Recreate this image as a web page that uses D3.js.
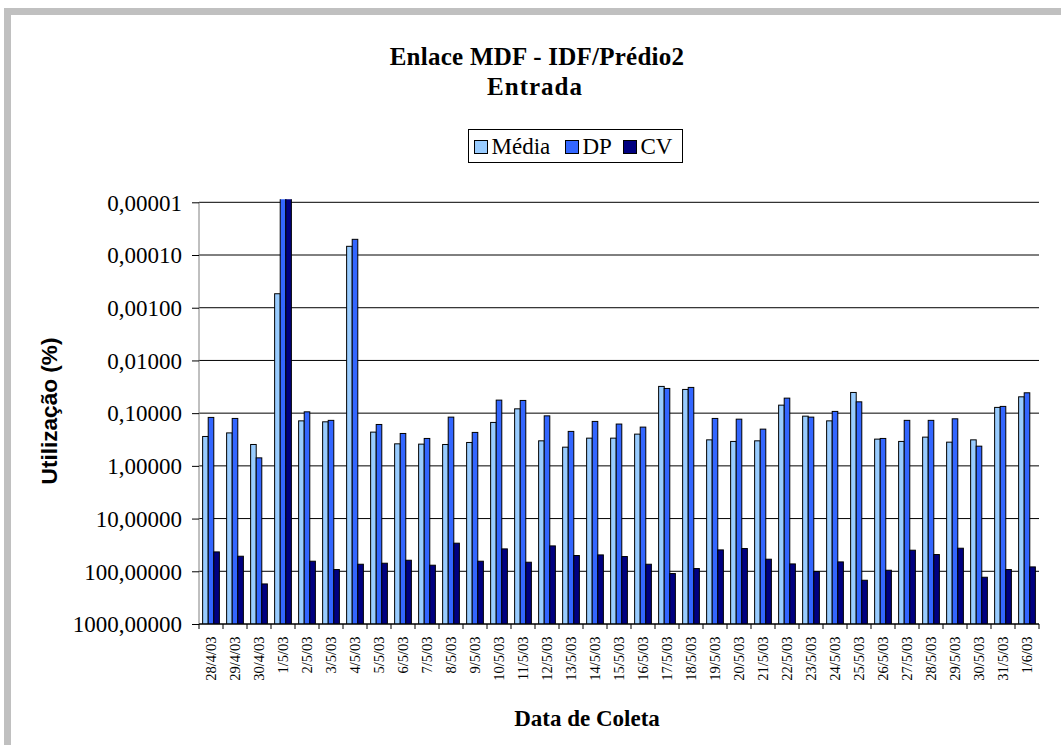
<!DOCTYPE html>
<html>
<head>
<meta charset="utf-8">
<script src="https://cdn.jsdelivr.net/npm/d3@7"></script>
<style>
  svg text.tr { font-family: "Liberation Serif" !important; }
  svg text.ar { font-family: "Liberation Sans" !important; }
</style>
</head>
<body style="margin:0">
<svg id="chart" width="1061" height="745"></svg>
<script>
// Collection dates (x categories)
const dates = ["28/4/03","29/4/03","30/4/03","1/5/03","2/5/03","3/5/03","4/5/03","5/5/03",
  "6/5/03","7/5/03","8/5/03","9/5/03","10/5/03","11/5/03","12/5/03","13/5/03","14/5/03",
  "15/5/03","16/5/03","17/5/03","18/5/03","19/5/03","20/5/03","21/5/03","22/5/03","23/5/03",
  "24/5/03","25/5/03","26/5/03","27/5/03","28/5/03","29/5/03","30/5/03","31/5/03","1/6/03"];

// Series (utilisation, %). 1/5/03 DP and CV lie beyond the top of the axis.
const media = [0.277, 0.237, 0.393, 0.000543, 0.140, 0.146, 0.0000684, 0.229, 0.382, 0.387,
  0.393, 0.360, 0.150, 0.0828, 0.335, 0.442, 0.298, 0.298, 0.250, 0.0311, 0.0355, 0.321,
  0.344, 0.335, 0.0705, 0.114, 0.140, 0.0405, 0.311, 0.344, 0.285, 0.355, 0.321, 0.0778, 0.049];
const dp = [0.1205, 0.126, 0.705, 0.000001, 0.0944, 0.137, 0.0000504, 0.164, 0.243, 0.302,
  0.119, 0.232, 0.0566, 0.0574, 0.1125, 0.222, 0.1435, 0.161, 0.184, 0.034, 0.0325, 0.126,
  0.130, 0.201, 0.0519, 0.119, 0.0927, 0.061, 0.302, 0.137, 0.137, 0.128, 0.423, 0.0745, 0.0411];
const cv = [42.9, 51.8, 173.8, 0.000001, 64.4, 92.7, 73.5, 70.3, 61.7, 76.7, 29.3, 64.4,
  37.6, 67.3, 33.0, 50.2, 48.9, 52.5, 73.5, 110.4, 88.7, 39.3, 37.0, 59.0, 72.5, 101, 66.4,
  147.9, 95.5, 39.8, 48.1, 36.5, 129.7, 92.7, 82.6];

const seriesNames = ["Média", "DP", "CV"];
const seriesColors = ["#99CCFF", "#3366FF", "#000080"];
const seriesValues = [media, dp, cv];

// Log axis tick values
const yTicks = [0.00001, 0.0001, 0.001, 0.01, 0.1, 1, 10, 100, 1000];

const svg = d3.select("#chart");
const W = 1061, H = 745;
const plot = { left: 199, right: 1039, top: 202.3, bottom: 624 };

// Outer frame (runs off the right and bottom edges)
svg.append("rect")
  .attr("x", 7.5).attr("y", 11.5)
  .attr("width", W + 20).attr("height", H + 20)
  .attr("fill", "#fff").attr("stroke", "#C0C0C0").attr("stroke-width", 7);

const x0 = d3.scaleBand().domain(dates).range([plot.left, plot.right]).paddingInner(0).paddingOuter(0);
const x1 = d3.scaleBand().domain(seriesNames).range([0, x0.bandwidth()]).paddingInner(0).paddingOuter(0.65);
const y = d3.scaleLog().domain([0.00001, 1000]).range([plot.top, plot.bottom]);

const fmt = v => v.toFixed(5).replace(".", ",");

// Gridlines
svg.append("g").selectAll("line").data(yTicks).join("line")
  .attr("x1", plot.left).attr("x2", plot.right)
  .attr("y1", d => y(d)).attr("y2", d => y(d))
  .attr("stroke", "#000").attr("stroke-width", 1);

// Bars
svg.append("clipPath").attr("id", "plotclip").append("rect")
  .attr("x", plot.left).attr("y", plot.top - 3)
  .attr("width", plot.right - plot.left).attr("height", plot.bottom - plot.top + 3);

const rows = dates.map((d, i) => ({ date: d, vals: seriesValues.map((s, k) => ({ k, v: s[i] })) }));

const groups = svg.append("g").attr("clip-path", "url(#plotclip)")
  .selectAll("g").data(rows).join("g")
  .attr("transform", d => `translate(${x0(d.date)},0)`);

groups.selectAll("rect").data(d => d.vals).join("rect")
  .attr("x", d => x1(seriesNames[d.k]))
  .attr("width", x1.bandwidth())
  .attr("y", d => y(d.v))
  .attr("height", d => y(1000) - y(d.v))
  .attr("fill", d => seriesColors[d.k])
  .attr("stroke", "#000").attr("stroke-width", 1);

// Y axis
const yAxis = d3.axisLeft(y).tickValues(yTicks).tickFormat(fmt).tickSize(7).tickPadding(10);
const gy = svg.append("g").attr("transform", `translate(${plot.left},0)`).call(yAxis)
  .attr("font-family", "Liberation Serif").attr("font-size", 23);
gy.select(".domain").attr("stroke", "#808080").attr("d", `M0,${plot.top}V${plot.bottom}`);
gy.selectAll(".tick line").attr("stroke", "#000");
gy.selectAll(".tick text").attr("class", "tr")
  .attr("font-family", "Liberation Serif")
  .style("font-family", "Liberation Serif").style("font-size", "23px")
  .attr("fill", "#000").attr("dy", "0.34em");

// X axis: ticks on category boundaries
svg.append("line").attr("x1", plot.left).attr("x2", plot.right)
  .attr("y1", plot.bottom).attr("y2", plot.bottom).attr("stroke", "#000");
const bounds = dates.map(d => x0(d)).concat([plot.right]);
svg.append("g").selectAll("line").data(bounds).join("line")
  .attr("x1", d => d).attr("x2", d => d)
  .attr("y1", plot.bottom).attr("y2", plot.bottom + 5)
  .attr("stroke", "#000");

svg.append("g").selectAll("text").data(dates).join("text")
  .attr("class", "tr")
  .attr("transform", d => `translate(${x0(d) + x0.bandwidth() / 2},${636.5}) rotate(-90)`)
  .attr("text-anchor", "end").attr("dy", "0.35em")
  .attr("font-family", "Liberation Serif")
  .style("font-family", "Liberation Serif").style("font-size", "14.5px")
  .attr("fill", "#000")
  .text(d => d);

// Titles
function label(x, yy, txt, cls, family, size, weight, spacing) {
  return svg.append("text").attr("class", cls).attr("x", x).attr("y", yy).attr("text-anchor", "middle")
    .attr("font-family", family)
    .style("font-family", family).style("font-size", size + "px").style("font-weight", weight)
    .style("letter-spacing", (spacing || 0) + "px")
    .attr("fill", "#000").text(txt);
}
label(537, 65, "Enlace MDF - IDF/Prédio2", "tr", "Liberation Serif", 25, "bold", 0.25);
label(535, 95, "Entrada", "tr", "Liberation Serif", 25, "bold", 1);
label(587, 726, "Data de Coleta", "tr", "Liberation Serif", 23, "bold");
label(0, 0, "Utilização (%)", "ar", "Liberation Sans", 22.6, "bold")
  .attr("transform", "translate(57,411) rotate(-90)");

// Legend
const legend = svg.append("g");
legend.append("rect").attr("x", 468.5).attr("y", 129.5).attr("width", 214).attr("height", 33)
  .attr("fill", "#fff").attr("stroke", "#000");
const legendX = [474, 565, 623];
seriesNames.forEach((name, k) => {
  legend.append("rect").attr("x", legendX[k] + 0.5).attr("y", 140.5).attr("width", 13).attr("height", 13)
    .attr("fill", seriesColors[k]).attr("stroke", "#000");
  legend.append("text").attr("class", "tr").attr("x", legendX[k] + 17.5).attr("y", 153.5)
    .attr("font-family", "Liberation Serif")
    .style("font-family", "Liberation Serif").style("font-size", "23px").attr("fill", "#000").text(name);
});
</script>
</body>
</html>
